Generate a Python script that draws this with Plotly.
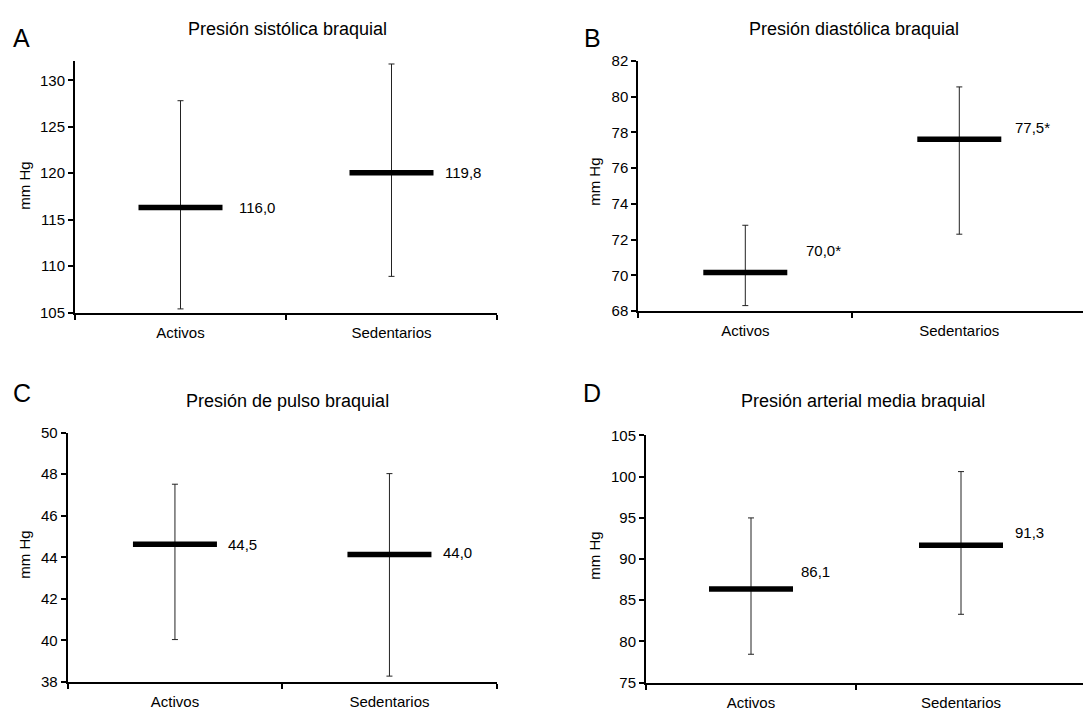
import plotly.graph_objects as go

W, H = 1083, 716

categories = ["Activos", "Sedentarios"]

titles = ["Presión sistólica braquial", "Presión diastólica braquial",
          "Presión de pulso braquial", "Presión arterial media braquial"]
letters = ["A", "B", "C", "D"]

means_A = [116.3, 120.05]
upper_A = [127.8, 131.75]
lower_A = [105.4, 108.9]
labels_A = ["116,0", "119,8"]

means_B = [70.15, 77.62]
upper_B = [72.8, 80.55]
lower_B = [68.3, 72.3]
labels_B = ["70,0*", "77,5*"]

means_C = [44.63, 44.13]
upper_C = [47.52, 48.03]
lower_C = [40.04, 38.28]
labels_C = ["44,5", "44,0"]

means_D = [86.37, 91.66]
upper_D = [94.98, 100.6]
lower_D = [78.44, 83.29]
labels_D = ["86,1", "91,3"]

yranges = [[105, 132.1], [68, 82], [38, 50], [75, 105]]
ydticks = [5, 2, 2, 5]

# ---- layout / style (pixels) ----
def px_x(v):
    return v / W

def px_y(v):
    return 1 - v / H

panel_boxes = [  # left, right, top, bottom in pixels
    (75, 497, 53, 311),
    (638.3, 1083, 53.3, 309.3),
    (67.7, 496.7, 434, 689.3),
    (646, 1083, 436.7, 690),
]
xranges = [[0, 2], [0, (1083 - 638.3) / 214], [0, 2], [0, (1083 - 646) / 210]]
edge_ticks = [[0, 1, 2], [0, 1], [0, 1, 2], [0, 1]]
label_shifts = [[(56, 0), (51, 0)], [(59, 22), (54, 12)],
                [(51, 0), (52, 2)], [(48, 17), (52, 13)]]
title_pos = [(287, 20), (853.5, 20.5), (287, 401.5), (863, 401.5)]
letter_pos = [(21, 30), (592.5, 30), (21.5, 393), (592, 393)]
ytitle_pos = [(25, 181), (595, 177), (25, 559), (595, 560)]

FONT = "Liberation Sans, Arial, Helvetica, sans-serif"

data = [
    (means_A, upper_A, lower_A, labels_A),
    (means_B, upper_B, lower_B, labels_B),
    (means_C, upper_C, lower_C, labels_C),
    (means_D, upper_D, lower_D, labels_D),
]

fig = go.Figure()
annotations = []
xpos = [0.5, 1.5]

for i, (means, upper, lower, labels) in enumerate(data):
    n = i + 1
    xa = "x" if n == 1 else f"x{n}"
    ya = "y" if n == 1 else f"y{n}"
    plus = [u - m for u, m in zip(upper, means)]
    minus = [m - l for m, l in zip(means, lower)]
    fig.add_trace(go.Scatter(
        x=xpos, y=means, xaxis=xa, yaxis=ya, mode="markers",
        marker=dict(symbol="line-ew", size=60, color="black",
                    line=dict(color="black", width=5.5)),
        error_y=dict(type="data", array=plus, arrayminus=minus,
                     color="#222222", thickness=1, width=3, symmetric=False),
        showlegend=False, hoverinfo="y",
    ))
    l, r, t, b = panel_boxes[i]
    axkey = "xaxis" if n == 1 else f"xaxis{n}"
    aykey = "yaxis" if n == 1 else f"yaxis{n}"
    lo, hi = yranges[i]
    dt = ydticks[i]
    tv = []
    v = lo
    while v <= hi + 1e-9:
        tv.append(v)
        v += dt
    fig.update_layout(**{
        axkey: dict(domain=[px_x(l), px_x(r)], range=xranges[i],
                    anchor=ya, showgrid=False, zeroline=False,
                    showline=True, linecolor="black", linewidth=2,
                    tickmode="array", tickvals=xpos, ticktext=categories,
                    ticks="", ticklabelstandoff=5,
                    tickfont=dict(size=15, color="black", family=FONT),
                    minor=dict(tickmode="array", tickvals=edge_ticks[i],
                               ticks="outside", ticklen=5, tickwidth=2,
                               tickcolor="black", showgrid=False),
                    fixedrange=True),
        aykey: dict(domain=[px_y(b), px_y(t)], range=[lo, hi],
                    anchor=xa, showgrid=False, zeroline=False,
                    showline=True, linecolor="black", linewidth=2,
                    tickmode="array", tickvals=tv,
                    ticks="outside", ticklen=5, tickwidth=2, tickcolor="black",
                    tickfont=dict(size=15, color="black", family=FONT),
                    fixedrange=True),
    })
    for j in range(2):
        dx, dy = label_shifts[i][j]
        annotations.append(dict(
            x=xpos[j], y=means[j], xref=xa, yref=ya, text=labels[j],
            showarrow=False, xanchor="left", yanchor="middle",
            xshift=dx, yshift=dy,
            font=dict(size=15, color="black", family=FONT)))
    tx, ty = title_pos[i]
    annotations.append(dict(
        x=px_x(tx), y=px_y(ty), xref="paper", yref="paper", text=titles[i],
        showarrow=False, xanchor="center", yanchor="middle",
        font=dict(size=18, color="black", family=FONT)))
    lx, ly = letter_pos[i]
    annotations.append(dict(
        x=px_x(lx), y=px_y(ly), xref="paper", yref="paper", text=letters[i],
        showarrow=False, xanchor="center", yanchor="middle",
        font=dict(size=25, color="black", family=FONT)))
    yx, yy = ytitle_pos[i]
    annotations.append(dict(
        x=px_x(yx), y=px_y(yy), xref="paper", yref="paper", text="mm Hg",
        showarrow=False, xanchor="center", yanchor="middle", textangle=-90,
        font=dict(size=15, color="black", family=FONT)))

fig.update_layout(
    width=W, height=H,
    margin=dict(l=0, r=0, t=0, b=0),
    paper_bgcolor="white", plot_bgcolor="white",
    annotations=annotations,
    showlegend=False,
)

fig.write_html(
    "out.html",
    config={"displayModeBar": False},
    post_script="document.body.style.margin='0';document.body.style.padding='0';"
                "document.body.style.overflow='hidden';"
                "document.documentElement.style.overflow='hidden';",
)
